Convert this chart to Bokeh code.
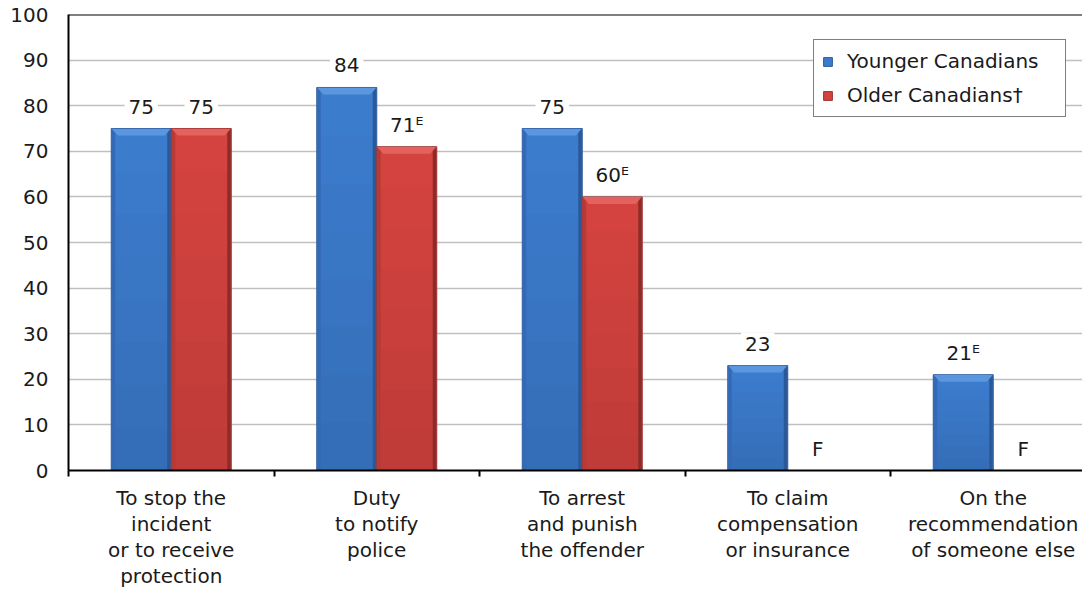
import numpy as np
from bokeh.plotting import figure
from bokeh.models import Range1d, FixedTicker, Span, Legend, LegendItem
from bokeh.core.properties import value
from bokeh.embed import file_html
from bokeh.resources import INLINE

# ---- data ----
categories = [
    "To stop the\nincident\nor to receive\nprotection",
    "Duty\nto notify\npolice",
    "To arrest\nand punish\nthe offender",
    "To claim\ncompensation\nor insurance",
    "On the\nrecommendation\nof someone else",
]
younger = [75, 84, 75, 23, 21]
older = [75, 71, 60, None, None]          # None = "F" (too unreliable to be published)
younger_labels = ["75", "84", "75", "23", "21\u1d31"]
older_labels = ["75", "71\u1d31", "60\u1d31", "F", "F"]
y_ticks = [0, 10, 20, 30, 40, 50, 60, 70, 80, 90, 100]

FONT = "DejaVu Sans"
FS = "20px"
W, H = 1082, 590
LEFT, TOP, BOTTOM = 68, 14, 120
PX_PER_CAT = 205.5
frame_w = W - LEFT
frame_h = H - TOP - BOTTOM

n = len(categories)
p = figure(width=W, height=H, output_backend="svg", toolbar_location=None,
           x_range=Range1d(0, frame_w / PX_PER_CAT), y_range=Range1d(0, 100),
           min_border_left=LEFT, min_border_right=0, min_border_top=TOP,
           min_border_bottom=BOTTOM)
p.outline_line_color = None
p.background_fill_color = "white"

ux = 1.0 / PX_PER_CAT          # data units per px (x)
uy = 100.0 / frame_h           # data units per px (y)
bw = 60 * ux

centers = np.arange(n) + 0.5
xb = centers - bw / 2
xr = centers + bw / 2


def draw_series(xc, vals, body, top_col, left_col, right_col, edge):
    v = np.array([np.nan if a is None else a for a in vals], dtype=float)
    r = p.vbar(x=xc, top=v, width=bw, bottom=0, fill_color=body,
               line_color=edge, line_width=1)
    # gentle darkening toward the bottom
    for frac in (0.875, 0.75, 0.625, 0.5, 0.375, 0.25, 0.125):
        p.vbar(x=xc, top=v * frac, width=bw - 2 * ux, bottom=0,
               fill_color="black", fill_alpha=0.011, line_color=None)
    # side strips
    sw = 4 * ux
    p.quad(left=xc - bw / 2 + 0.5 * ux, right=xc - bw / 2 + sw, bottom=0, top=v,
           fill_color=left_col, line_color=None)
    p.quad(left=xc + bw / 2 - sw, right=xc + bw / 2 - 0.5 * ux, bottom=0, top=v,
           fill_color=right_col, line_color=None)
    # top bevel
    hb, db = 7 * uy, 6 * ux
    xs, ys = [], []
    for c, val in zip(xc, v):
        if np.isnan(val) or val <= 0:
            continue
        l, rr = c - bw / 2 + 0.5 * ux, c + bw / 2 - 0.5 * ux
        xs.append([l, rr, rr - db, l + db])
        ys.append([val - 0.2 * uy, val - 0.2 * uy, val - hb, val - hb])
    p.patches(xs=xs, ys=ys, fill_color=top_col, line_color=None)
    return r, v


rb, vb = draw_series(xb, younger, "#3c7ccd", "#5a97df", "#3469b6", "#2b5998", "#2d5c9c")
rr, vr = draw_series(xr, older, "#d4433f", "#e3625d", "#b83a36", "#8c2c2a", "#9a3331")

# data labels
lab_kw = dict(text_align="center", text_baseline="alphabetic", y_offset=-22,
              text_font=value(FONT), text_font_size=FS, text_color="#1a1a1a",
              background_fill_color="white", padding=4)
p.text(x=xb, y=np.nan_to_num(vb), text=younger_labels, **lab_kw)
p.text(x=xr, y=np.nan_to_num(vr), text=older_labels, **lab_kw)

# grid
p.xgrid.grid_line_color = None
p.ygrid.ticker = FixedTicker(ticks=y_ticks)
p.ygrid.grid_line_color = "#c0c0c0"
p.ygrid.grid_line_width = 1.5
p.ygrid.level = "underlay"

# top border line
p.add_layout(Span(location=100, dimension="width", line_color="black", line_width=2))

# y axis
ya = p.yaxis[0]
ya.ticker = FixedTicker(ticks=y_ticks)
ya.axis_line_color = "black"
ya.axis_line_width = 2
ya.major_tick_line_color = None
ya.major_tick_out = 0
ya.major_tick_in = 0
ya.minor_tick_line_color = None
ya.major_label_standoff = 20
ya.major_label_text_font = FONT
ya.major_label_text_font_size = FS
ya.major_label_text_color = "#1a1a1a"

# x axis
xa = p.xaxis[0]
xa.ticker = FixedTicker(ticks=list(centers), minor_ticks=list(range(n + 1)))
xa.major_label_overrides = {float(c): lab for c, lab in zip(centers, categories)}
xa.axis_line_color = "black"
xa.axis_line_width = 2
xa.major_tick_line_color = None
xa.major_tick_out = 0
xa.major_tick_in = 0
xa.minor_tick_line_color = "black"
xa.minor_tick_line_width = 2
xa.minor_tick_out = 6
xa.minor_tick_in = 0
xa.major_label_standoff = 9
xa.major_label_text_font = FONT
xa.major_label_text_font_size = FS
xa.major_label_text_color = "#1a1a1a"
xa.major_label_text_line_height = 1.09

# legend
legend = Legend(items=[LegendItem(label="Younger Canadians", renderers=[rb]),
                       LegendItem(label="Older Canadians\u2020", renderers=[rr])],
                location=(745, 353), orientation="vertical",
                border_line_color="black", border_line_width=1.5,
                background_fill_color="white", background_fill_alpha=1,
                label_text_font=FONT, label_text_font_size=FS,
                label_text_color="#1a1a1a", glyph_width=11, glyph_height=11,
                label_standoff=14, label_width=210, label_height=26,
                spacing=8, padding=8, margin=0)
p.add_layout(legend)

open("out.html", "w").write(file_html(p, INLINE))
